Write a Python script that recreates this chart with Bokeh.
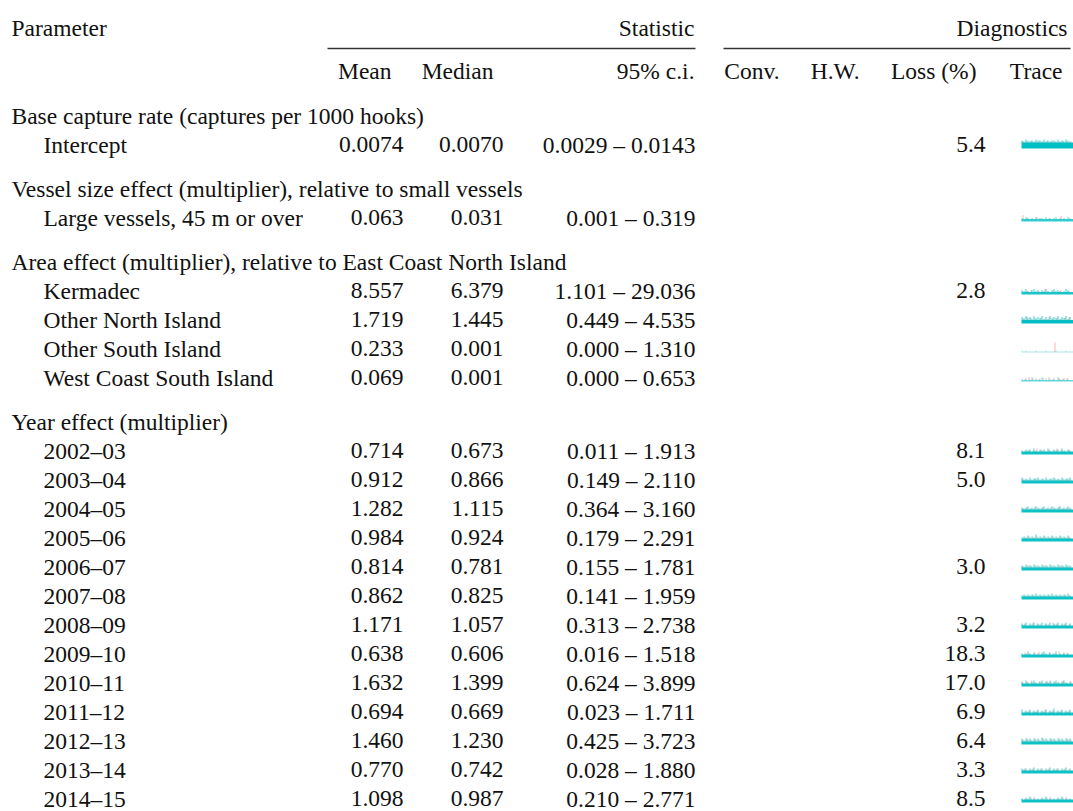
from bokeh.plotting import figure
from bokeh.models import Range1d, ColumnDataSource
from bokeh.core.properties import value
from bokeh.embed import file_html
from bokeh.resources import INLINE

# ---------------- data ----------------
groups = [
    "Base capture rate (captures per 1000 hooks)",
    "Vessel size effect (multiplier), relative to small vessels",
    "Area effect (multiplier), relative to East Coast North Island",
    "Year effect (multiplier)",
]
group_sizes = [1, 1, 4, 13]
params = [
    "Intercept",
    "Large vessels, 45 m or over",
    "Kermadec", "Other North Island", "Other South Island", "West Coast South Island",
    "2002–03", "2003–04", "2004–05", "2005–06", "2006–07", "2007–08", "2008–09",
    "2009–10", "2010–11", "2011–12", "2012–13", "2013–14", "2014–15",
]
decimals = [4] + [3] * 18
means = [0.0074, 0.063, 8.557, 1.719, 0.233, 0.069, 0.714, 0.912, 1.282, 0.984,
         0.814, 0.862, 1.171, 0.638, 1.632, 0.694, 1.460, 0.770, 1.098]
medians = [0.0070, 0.031, 6.379, 1.445, 0.001, 0.001, 0.673, 0.866, 1.115, 0.924,
           0.781, 0.825, 1.057, 0.606, 1.399, 0.669, 1.230, 0.742, 0.987]
ci_lo = [0.0029, 0.001, 1.101, 0.449, 0.000, 0.000, 0.011, 0.149, 0.364, 0.179,
         0.155, 0.141, 0.313, 0.016, 0.624, 0.023, 0.425, 0.028, 0.210]
ci_hi = [0.0143, 0.319, 29.036, 4.535, 1.310, 0.653, 1.913, 2.110, 3.160, 2.291,
         1.781, 1.959, 2.738, 1.518, 3.899, 1.711, 3.723, 1.880, 2.771]
loss = [5.4, None, 2.8, None, None, None, 8.1, 5.0, None, None, 3.0, None, 3.2,
        18.3, 17.0, 6.9, 6.4, 3.3, 8.5]

# trace sketches (heights of visible spikes above each chain's band)
trace_teal = [
    "2132121322131212213121321", "1021010201102010120101021",
    "2131023120213102312101320", "3242314232413142324132413",
    "1010000100001000010000100", "1020130201302010203102010",
    "1021203102120310212031021", "3121312231213122312131223",
    "2123121321231213212312132", "1213121412131213121312131",
    "2132213221322132213221322", "1212121312121213121212131",
    "2130213021302130213021302", "1013102010231020130102010",
    "2031023102302130231023102", "3021302130213021402130213",
    "3132313231423132313231323", "2120213021202130212021302",
    "1021302010213020102130201",
]
trace_salmon = [
    "1010201010102010101020101", "4010000200000100000300000",
    "0010200010030001000200010", "1030201002010301020102030",
    "0000000000000000900000000", "0103020010200301002010200",
    "0102010302010201030201020", "2010102010201010201020101",
    "1020103010201020103010201", "0102010201020102010201020",
    "1010201010102010101020101", "0101020101010201010102010",
    "0201030201020103020102010", "0201002030100201003010200",
    "1020301020103020102030102", "0102010201030102010201020",
    "2030203020302030203020302", "0201020102010201020102010",
    "0100201001002010010020100",
]
band_thick = [6, 2.5, 2.5, 3.5, 1, 1.5] + [3] * 13
band_alpha = [1, 0.8, 0.9, 1, 0.35, 0.6] + [0.95] * 13

# ---------------- layout ----------------
W, H = 1073, 811
FONT = value("Liberation Serif")
FS = "23.5px"
TXT = "#111111"
TEAL = "#00BFC4"
SALMON = "#F8766D"

X_GROUP, X_ITEM = 11, 43
X_MEAN, X_MED, X_CI, X_LOSS = 403, 503, 695, 985
Y_H1, Y_RULE, Y_H2 = 27, 48, 70
Y0, STEP, GAP = 115, 29, 15
TR_X0, TR_X1 = 1021, 1073

p = figure(width=W, height=H, output_backend="svg", toolbar_location=None,
           x_range=Range1d(0, W), y_range=Range1d(H, 0),
           min_border=0)
p.axis.visible = False
p.grid.visible = False
p.outline_line_color = None
p.background_fill_color = "white"
p.border_fill_color = "white"

def txt(x, y, t, align="left"):
    p.text(x=[x], y=[y], text=[t], text_font=FONT, text_font_size=FS,
           text_color=TXT, text_align=align, text_baseline="middle")

# headers
txt(X_GROUP, Y_H1, "Parameter")
txt(694, Y_H1, "Statistic", "right")
txt(1067, Y_H1, "Diagnostics", "right")
p.segment(x0=[327, 723], y0=[Y_RULE, Y_RULE], x1=[695, 1070], y1=[Y_RULE, Y_RULE],
          line_color="#333333", line_width=1.4)
for x, t in [(391, "Mean"), (493, "Median"), (694, "95% c.i."), (779, "Conv."),
             (859, "H.W."), (976, "Loss (%)"), (1062, "Trace")]:
    txt(x, Y_H2, t, "right")

# body rows
gy, gt = [], []
rows_y = []
y = Y0
for g, n in zip(groups, group_sizes):
    gy.append(y); gt.append(g)
    y += STEP
    for _ in range(n):
        rows_y.append(y)
        y += STEP
    y += GAP

p.text(x=[X_GROUP] * len(gy), y=gy, text=gt, text_font=FONT, text_font_size=FS,
       text_color=TXT, text_baseline="middle")

src = ColumnDataSource(dict(
    y=rows_y,
    name=params,
    mean=[f"{m:.{d}f}" for m, d in zip(means, decimals)],
    med=[f"{m:.{d}f}" for m, d in zip(medians, decimals)],
    ci=[f"{a:.{d}f} – {b:.{d}f}" for a, b, d in zip(ci_lo, ci_hi, decimals)],
    loss=["" if v is None else f"{v:.1f}" for v in loss],
))
for xcol, col, al in [(X_ITEM, "name", "left"), (X_MEAN, "mean", "right"),
                      (X_MED, "med", "right"), (X_CI, "ci", "right"),
                      (X_LOSS, "loss", "right")]:
    p.text(x=xcol, y="y", text=col, source=src, text_font=FONT, text_font_size=FS,
           text_color=TXT, text_align=al, text_baseline="middle")

# traces
for i, cy in enumerate(rows_y):
    base = cy + 4
    top = base - band_thick[i]
    p.quad(left=[TR_X0], right=[TR_X1], bottom=[base], top=[top],
           fill_color=TEAL, fill_alpha=band_alpha[i], line_color=None)
    sx0, sy0, sy1 = [], [], []
    for j, ch in enumerate(trace_salmon[i]):
        h = int(ch)
        if h:
            sx0.append(TR_X0 + 1.5 + 2 * j); sy0.append(top + 0.5); sy1.append(top - h)
    p.segment(x0=sx0, y0=sy0, x1=sx0, y1=sy1, line_color=SALMON, line_alpha=0.55,
              line_width=1)
    tx0, ty0, ty1 = [], [], []
    for j, ch in enumerate(trace_teal[i]):
        h = int(ch)
        if h:
            tx0.append(TR_X0 + 0.5 + 2 * j); ty0.append(top + 0.5); ty1.append(top - h)
    p.segment(x0=tx0, y0=ty0, x1=tx0, y1=ty1, line_color=TEAL,
              line_alpha=band_alpha[i] * 0.8, line_width=1)

open("out.html", "w").write(file_html(p, INLINE))
